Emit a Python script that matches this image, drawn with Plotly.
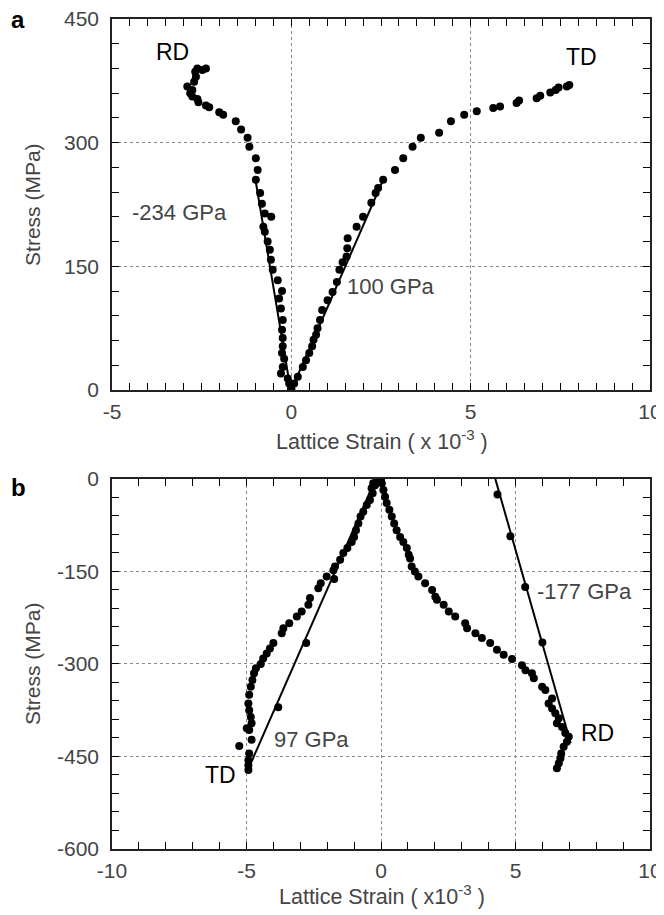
import plotly.graph_objects as go

# ---------------- Panel a (tension) ----------------
a_rd_strain = [0.0, -0.01, -0.06, -0.10, -0.29, -0.24, -0.20, -0.26, -0.24, -0.24, -0.26, -0.24,
               -0.29, -0.34, -0.26, -0.38, -0.52, -0.57, -0.60, -0.66, -0.74, -0.78, -0.56, -0.74,
               -0.82, -0.87, -0.99, -0.94, -0.99, -1.17, -1.22, -1.40, -1.55, -1.90, -2.01, -2.29,
               -2.38, -2.59, -2.62, -2.76, -2.82, -2.90, -2.76, -2.71, -2.66, -2.68, -2.62, -2.48, -2.38]
a_rd_stress = [0, 2, 8, 14, 20, 28, 38, 45, 53, 63, 73, 85,
               99, 111, 120, 133, 146, 158, 170, 180, 192, 198, 210, 214,
               226, 239, 255, 267, 281, 295, 306, 316, 326, 334, 337, 343,
               345, 349, 353, 356, 360, 368, 364, 374, 380, 386, 390, 388, 390]

a_td_strain = [0.0, 0.08, 0.18, 0.32, 0.41, 0.50, 0.58, 0.62, 0.69, 0.73, 0.80, 0.86, 1.01, 1.15,
               1.27, 1.34, 1.43, 1.54, 1.56, 1.57, 1.82, 2.00, 2.23, 2.35, 2.42, 2.56, 2.89, 3.12,
               3.38, 3.61, 4.12, 4.45, 4.82, 5.17, 5.63, 5.82, 6.28, 6.35, 6.84, 6.94, 7.22, 7.37,
               7.45, 7.68, 7.75]
a_td_stress = [2, 8, 16, 28, 36, 45, 53, 61, 67, 75, 85, 97, 109, 119,
               131, 146, 155, 162, 172, 184, 198, 210, 227, 239, 245, 255, 267, 281,
               295, 306, 312, 326, 334, 338, 342, 344, 348, 351, 354, 357, 361, 364,
               367, 368, 370]

a_rd_fit_strain = [-0.02, -1.00]
a_rd_fit_stress = [0, 255]
a_td_fit_strain = [0.0, 2.56]
a_td_fit_stress = [0, 255]

# ---------------- Panel b (compression) ----------------
b_td_strain = [-0.05, -0.16, -0.29, -0.22, -0.35, -0.31, -0.41, -0.53, -0.66, -0.76, -0.84, -0.93,
               -1.00, -1.09, -1.25, -1.40, -1.52, -1.71, -1.77, -2.02, -2.24, -2.33, -2.64, -2.70,
               -2.95, -3.13, -3.41, -3.63, -3.69, -4.00, -4.13, -4.25, -4.38, -4.47, -4.65, -4.72,
               -4.78, -4.84, -4.90, -4.93, -4.90, -4.84, -4.81, -4.99, -4.90, -4.81, -5.27, -4.90,
               -4.93, -4.93, -4.93]
b_td_stress = [-2, -4, -7, -10, -15, -23, -34, -42, -53, -61, -72, -83,
               -94, -102, -112, -120, -131, -142, -148, -158, -169, -177, -193, -204,
               -215, -223, -234, -242, -250, -266, -275, -283, -291, -300, -307, -315,
               -326, -337, -350, -364, -375, -386, -396, -404, -407, -423, -433, -445,
               -456, -464, -472]

b_rd_strain = [0.00, 0.03, 0.09, 0.15, 0.21, 0.31, 0.40, 0.49, 0.58, 0.71, 0.83, 0.96, 1.03, 1.08,
               1.14, 1.26, 1.39, 1.64, 1.90, 2.02, 2.08, 2.33, 2.52, 2.76, 3.13, 3.20, 3.51, 3.75,
               4.06, 4.31, 4.56, 4.87, 5.24, 5.37, 5.61, 5.68, 5.99, 6.11, 6.36, 6.23, 6.36, 6.48,
               6.61, 6.54, 6.73, 6.85, 6.98, 6.91, 6.79, 6.70, 6.67, 6.61, 6.54]
b_rd_stress = [-2, -7, -18, -29, -39, -50, -61, -72, -83, -94, -102, -112, -123, -129,
               -142, -150, -158, -169, -180, -191, -196, -204, -215, -223, -234, -242, -250, -258,
               -266, -277, -285, -292, -302, -310, -315, -323, -337, -342, -356, -364, -372, -380,
               -388, -396, -402, -412, -418, -426, -434, -445, -453, -461, -469]

b_td_fit_strain = [-4.93, -0.30]
b_td_fit_stress = [-470, -10]
b_td_fit_mark_strain = [-3.82, -2.78, -1.74]
b_td_fit_mark_stress = [-370, -266, -162]

b_rd_fit_strain = [4.25, 7.05]
b_rd_fit_stress = [0, -428]
b_rd_fit_mark_strain = [4.33, 4.81, 5.36, 6.00]
b_rd_fit_mark_stress = [-25, -93, -175, -265]

# ---------------- Ticks ----------------
a_x_ticks = [-5, 0, 5, 10]
a_y_ticks = [0, 150, 300, 450]
b_x_ticks = [-10, -5, 0, 5, 10]
b_y_ticks = [-600, -450, -300, -150, 0]

# ---------------- Text ----------------
a_labels = [("RD", -3.32, 410), ("TD", 8.10, 404)]
a_moduli = [("-234 GPa", -3.13, 215), ("100 GPa", 2.79, 125)]
b_labels = [("TD", -5.95, -480), ("RD", 8.03, -412)]
b_moduli = [("97 GPa", -2.57, -422), ("-177 GPa", 7.58, -183)]

FONT = "Liberation Sans, Arial, sans-serif"
GRAY = "#444444"
MS = 8

fig = go.Figure()

def pts(x, y, xa, ya):
    fig.add_trace(go.Scatter(x=x, y=y, mode="markers", xaxis=xa, yaxis=ya,
                             marker=dict(color="black", size=MS, line=dict(width=0)),
                             showlegend=False))

def line(x, y, xa, ya):
    fig.add_trace(go.Scatter(x=x, y=y, mode="lines", xaxis=xa, yaxis=ya,
                             line=dict(color="black", width=2), showlegend=False))

line(a_rd_fit_strain, a_rd_fit_stress, "x", "y")
line(a_td_fit_strain, a_td_fit_stress, "x", "y")
pts(a_rd_strain, a_rd_stress, "x", "y")
pts(a_td_strain, a_td_stress, "x", "y")

line(b_td_fit_strain, b_td_fit_stress, "x2", "y2")
line(b_rd_fit_strain, b_rd_fit_stress, "x2", "y2")
pts(b_td_fit_mark_strain, b_td_fit_mark_stress, "x2", "y2")
pts(b_rd_fit_mark_strain, b_rd_fit_mark_stress, "x2", "y2")
pts(b_td_strain, b_td_stress, "x2", "y2")
pts(b_rd_strain, b_rd_stress, "x2", "y2")

# empty traces so the mirrored tick axes (top / right) are created
for xa, ya in (("x3", "y3"), ("x4", "y4")):
    fig.add_trace(go.Scatter(x=[], y=[], xaxis=xa, yaxis=ya, showlegend=False, hoverinfo="skip"))

def axis(rng, ticks, minor, standoff, **kw):
    d = dict(range=rng, tickmode="array", tickvals=ticks, ticktext=[str(t) for t in ticks],
             ticks="inside", ticklen=7, tickwidth=1, tickcolor="black",
             minor=dict(tickmode="linear", dtick=minor, tick0=0, ticks="inside", ticklen=7,
                        tickwidth=1, tickcolor="black", showgrid=False),
             showgrid=True, gridcolor="#888", griddash="dot", gridwidth=1,
             showline=True, linecolor="#222", linewidth=1.5, mirror=True,
             zeroline=False, automargin=False, ticklabeloverflow="allow",
             tickfont=dict(family=FONT, size=21, color=GRAY),
             ticklabelstandoff=standoff, fixedrange=True)
    d.update(kw)
    return d

def mirror_axis(rng, ticks, minor, **kw):
    d = dict(range=rng, tickmode="array", tickvals=ticks, showticklabels=False,
             ticks="inside", ticklen=7, tickwidth=1, tickcolor="black",
             minor=dict(tickmode="linear", dtick=minor, tick0=0, ticks="inside", ticklen=7,
                        tickwidth=1, tickcolor="black", showgrid=False),
             showgrid=False, showline=False, zeroline=False, automargin=False, fixedrange=True)
    d.update(kw)
    return d

YA = [0.553, 1]
YB = [0, 0.4458]

# The page body has an 8px margin: figure is 8px smaller and margins shifted accordingly.
fig.update_layout(
    width=656, height=907,
    margin=dict(l=104, r=14, t=11, b=66),
    paper_bgcolor="white", plot_bgcolor="white",
    xaxis=axis([-5, 10], a_x_ticks, 0.5, 2, domain=[0, 1], anchor="y"),
    yaxis=axis([0, 450], a_y_ticks, 30, 7, domain=YA, anchor="x"),
    xaxis2=axis([-10, 10], b_x_ticks, 1, 2, domain=[0, 1], anchor="y2"),
    yaxis2=axis([-600, 0], b_y_ticks, 30, 7, domain=YB, anchor="x2"),
    xaxis3=mirror_axis([-5, 10], a_x_ticks, 0.5, overlaying="x", side="top", anchor="y"),
    yaxis3=mirror_axis([0, 450], a_y_ticks, 30, overlaying="y", side="right", anchor="x"),
    xaxis4=mirror_axis([-10, 10], b_x_ticks, 1, overlaying="x2", side="top", anchor="y2"),
    yaxis4=mirror_axis([-600, 0], b_y_ticks, 30, overlaying="y2", side="right", anchor="x2"),
)

ann = []
def add(text, x, y, xref, yref, size, color, angle=0):
    ann.append(dict(text=text, x=x, y=y, xref=xref, yref=yref, showarrow=False,
                    xanchor="center", yanchor="middle", textangle=angle,
                    font=dict(family=FONT, size=size, color=color)))

for t, x, y in a_labels:
    add(t, x, y, "x", "y", 23, "black")
for t, x, y in a_moduli:
    add(t, x, y, "x", "y", 22, GRAY)
for t, x, y in b_labels:
    add(t, x, y, "x2", "y2", 23, "black")
for t, x, y in b_moduli:
    add(t, x, y, "x2", "y2", 22, GRAY)

add("<b>a</b>", -0.1747, 0.9995, "paper", "paper", 24, "black")
add("<b>b</b>", -0.1747, 0.436, "paper", "paper", 24, "black")
add("Stress (MPa)", -0.1468, 0.776, "paper", "paper", 21, GRAY, -90)
add("Stress (MPa)", -0.1468, 0.2229, "paper", "paper", 21, GRAY, -90)
add("Lattice Strain ( x 10<sup>-3</sup> )", 0.502, 0.4928, "paper", "paper", 21.5, GRAY)
add("Lattice Strain ( x10<sup>-3</sup> )", 0.502, -0.0554, "paper", "paper", 21.5, GRAY)
fig.update_layout(annotations=ann)

fig.write_html("out.html")
